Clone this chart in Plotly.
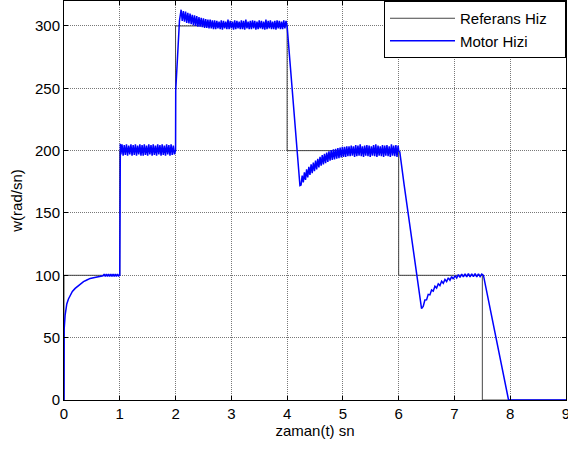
import plotly.graph_objects as go

# Reference speed (step profile)
ref_t = [0, 0, 1, 1, 2, 2, 4, 4, 6, 6, 7.5, 7.5, 9]
ref_w = [0, 100, 100, 200, 200, 300, 300, 200, 200, 100, 100, 0, 0]

# Motor speed, segment 0..1 s
mot_t0 = [0.0, 0.003, 0.02, 0.05, 0.08, 0.11, 0.15, 0.2, 0.25, 0.3, 0.35, 0.4, 0.47, 0.55, 0.6, 0.65,
          0.7, 0.72, 0.74, 0.76, 0.78, 0.8, 0.82, 0.84, 0.86, 0.88, 0.9, 0.92, 0.94, 0.96, 0.98]
mot_w0 = [0, 57, 68, 77, 81, 84, 87, 89.5, 91.5, 93.5, 95, 96, 97.5, 98.3, 98.8, 99.3,
          99.6, 101, 99, 101, 99, 101, 99, 101, 99, 101, 99, 101, 99, 101, 99.5]

# segment 1..2 s
mot_t1 = [1.00, 1.00, 1.01, 1.02, 1.04, 1.06, 1.08, 1.10, 1.12, 1.14, 1.16, 1.18, 1.20, 1.22, 1.24,
          1.26, 1.28, 1.30, 1.32, 1.34, 1.36, 1.38, 1.40, 1.42, 1.44, 1.46, 1.48, 1.50, 1.52, 1.54,
          1.56, 1.58, 1.60, 1.62, 1.64, 1.66, 1.68, 1.70, 1.72, 1.74, 1.76, 1.78, 1.80, 1.82, 1.84,
          1.86, 1.88, 1.90, 1.92, 1.94, 1.96, 1.98]
mot_w1 = [100, 145, 205.5, 197, 205, 196, 204.5, 196.5, 205, 196, 204, 197, 205, 196, 204.5,
          196.5, 205, 196, 204, 197, 205, 196, 204.5, 196, 205, 196.5, 204, 196, 205, 197,
          204.5, 196, 205, 196.5, 204, 196, 205, 197, 204.5, 196, 205, 196.5, 204, 196, 205,
          197, 204.5, 196, 205, 196.5, 204, 197]

# segment 2..4 s
mot_t2 = [2.00, 2.003, 2.04, 2.07, 2.10,
          2.12, 2.14, 2.16, 2.18, 2.20, 2.22, 2.24, 2.26, 2.28, 2.30,
          2.32, 2.34, 2.36, 2.38, 2.40, 2.42, 2.44, 2.46, 2.48, 2.50,
          2.52, 2.54, 2.56, 2.58, 2.60, 2.62, 2.64, 2.66, 2.68, 2.70,
          2.72, 2.74, 2.76, 2.78, 2.80, 2.82, 2.84, 2.86, 2.88, 2.90,
          2.92, 2.94, 2.96, 2.98, 3.00, 3.02, 3.04, 3.06, 3.08, 3.10,
          3.12, 3.14, 3.16, 3.18, 3.20, 3.22, 3.24, 3.26, 3.28, 3.30,
          3.32, 3.34, 3.36, 3.38, 3.40, 3.42, 3.44, 3.46, 3.48, 3.50,
          3.52, 3.54, 3.56, 3.58, 3.60, 3.62, 3.64, 3.66, 3.68, 3.70,
          3.72, 3.74, 3.76, 3.78, 3.80, 3.82, 3.84, 3.86, 3.88, 3.90,
          3.92, 3.94, 3.96, 3.98]
mot_w2 = [200, 248, 276, 304, 313,
          304, 312, 303.5, 311.5, 302.5, 310.5, 302, 310, 301.5, 309,
          300.5, 308.5, 300, 308, 299.5, 307, 299.5, 306.5, 299, 306,
          298.5, 305.5, 298.5, 305, 298, 305, 298, 304.5, 297.5, 304.5,
          297.5, 304, 298, 303.5, 297.5, 304.5, 297, 304, 298, 303.5,
          297.5, 305, 297.5, 304, 298, 303.5, 297, 304.5, 297.5, 304,
          298, 303.5, 297.5, 304.5, 297.5, 304, 297, 305, 298, 303.5,
          297.5, 304, 297.5, 304.5, 298, 304, 297, 303.5, 297.5, 304.5,
          298, 304, 297.5, 303.5, 297, 305, 297.5, 304, 298, 304.5,
          297.5, 303.5, 297.5, 304, 297, 304.5, 298, 304, 297.5, 303.5,
          297.5, 304.5, 298, 304]

# segment 4..6 s
mot_t3 = [4.00, 4.05, 4.10, 4.16, 4.20, 4.23,
          4.25, 4.27, 4.29, 4.31, 4.33, 4.35, 4.37, 4.39, 4.41, 4.43,
          4.45, 4.47, 4.49, 4.51, 4.53, 4.55, 4.57, 4.59, 4.61, 4.63,
          4.65, 4.67, 4.69, 4.71, 4.73, 4.75, 4.77, 4.79, 4.81, 4.83,
          4.85, 4.87, 4.89, 4.91, 4.93, 4.95, 4.97, 4.99, 5.01, 5.03,
          5.05, 5.07, 5.09, 5.11, 5.13, 5.15, 5.17, 5.19, 5.21, 5.23,
          5.25, 5.27, 5.29, 5.31, 5.33, 5.35, 5.37, 5.39, 5.41, 5.43,
          5.45, 5.47, 5.49, 5.51, 5.53, 5.55, 5.57, 5.59, 5.61, 5.63,
          5.65, 5.67, 5.69, 5.71, 5.73, 5.75, 5.77, 5.79, 5.81, 5.83,
          5.85, 5.87, 5.89, 5.91, 5.93, 5.95, 5.97, 5.99]
mot_w3 = [300, 272, 243, 208, 187, 172,
          172.5, 180, 174.5, 182.5, 176.5, 185, 178.5, 187, 180.5, 189,
          182, 190.5, 183.5, 192, 185, 193.5, 186.5, 195, 188, 196.5,
          189, 197.5, 190, 198.5, 191, 199.5, 192, 200.5, 192.5, 201,
          193, 201.5, 193.5, 202, 194, 202.5, 194.5, 203, 195, 203,
          195, 203.5, 195.5, 203.5, 195.5, 204, 196, 203.5, 195, 204.5,
          195.5, 204, 196, 205, 195.5, 203.5, 195, 204, 196, 204.5,
          195.5, 204, 195, 203.5, 196, 204.5, 195.5, 205, 195, 204,
          196, 203.5, 195.5, 204.5, 195, 204, 196, 204.5, 195.5, 203.5,
          195, 205, 196, 204, 195.5, 204.5, 195, 204]

# segment 6..7.5 s
mot_t4 = [6.00, 6.02, 6.10, 6.20, 6.30, 6.41,
          6.44, 6.47, 6.50, 6.53, 6.56, 6.59, 6.62, 6.65, 6.68, 6.71, 6.74, 6.77, 6.80, 6.83,
          6.86, 6.89, 6.92, 6.95, 6.98, 7.01, 7.04, 7.07, 7.10, 7.13, 7.16, 7.19, 7.22, 7.25,
          7.28, 7.31, 7.34, 7.37, 7.40, 7.43, 7.46, 7.49]
mot_w4 = [200, 199, 172, 140, 108, 73.3,
          75, 80.2, 80.3, 84.7, 84.3, 88.2, 87.3, 91.2, 89.8, 93.2, 91.8, 95.2, 93.6, 96.7,
          95, 98, 96.1, 99, 97, 99.8, 97.8, 100.5, 98.3, 101, 98.7, 101.2, 98.8, 101.3,
          98.8, 101.2, 98.9, 101.3, 98.8, 101.2, 98.9, 101]

# segment 7.5..9 s
mot_t5 = [7.52, 7.60, 7.70, 7.80, 7.90, 7.97, 9.0]
mot_w5 = [100, 82, 60, 38, 16, 0, 0]

motor_t = mot_t0 + mot_t1 + mot_t2 + mot_t3 + mot_t4 + mot_t5
motor_w = mot_w0 + mot_w1 + mot_w2 + mot_w3 + mot_w4 + mot_w5

x_ticks = [0, 1, 2, 3, 4, 5, 6, 7, 8, 9]
y_ticks = [0, 50, 100, 150, 200, 250, 300]

FONT = "Liberation Sans, Arial, sans-serif"
FS = 15
NB = "\u00a0\u00a0\u00a0"

fig = go.Figure()
fig.add_trace(go.Scatter(x=ref_t, y=ref_w, mode="lines", name="Referans Hiz" + NB,
                         line=dict(color="rgb(70,70,70)", width=1)))
fig.add_trace(go.Scatter(x=motor_t, y=motor_w, mode="lines", name="Motor Hizi" + NB,
                         line=dict(color="#0000ff", width=1.5)))

axis_common = dict(
    showline=True, linecolor="black", linewidth=1, mirror="ticks",
    ticks="inside", ticklen=4, tickcolor="black",
    showgrid=True, gridcolor="rgb(120,120,120)", griddash="1px,1px", gridwidth=1,
    zeroline=False, tickfont=dict(family=FONT, size=FS, color="black"),
    ticklabeloverflow="allow",
)

fig.update_layout(
    width=568, height=450,
    margin=dict(l=64, r=2, t=1, b=50),
    paper_bgcolor="white", plot_bgcolor="white",
    font=dict(family=FONT, size=FS, color="black"),
    xaxis=dict(range=[0, 9], tickvals=x_ticks, automargin="height",
               title=dict(text="zaman(t) sn", standoff=4, font=dict(family=FONT, size=FS)),
               **axis_common),
    yaxis=dict(range=[0, 320], tickvals=y_ticks,
               title=dict(text="w(rad/sn)", standoff=8, font=dict(family=FONT, size=FS)),
               **axis_common),
    legend=dict(x=1, y=1, xanchor="right", yanchor="top",
                bgcolor="white", bordercolor="black", borderwidth=1,
                font=dict(family=FONT, size=FS, color="black"),
                itemwidth=65, tracegroupgap=0),
    showlegend=True,
)

fig.write_html("out.html")
